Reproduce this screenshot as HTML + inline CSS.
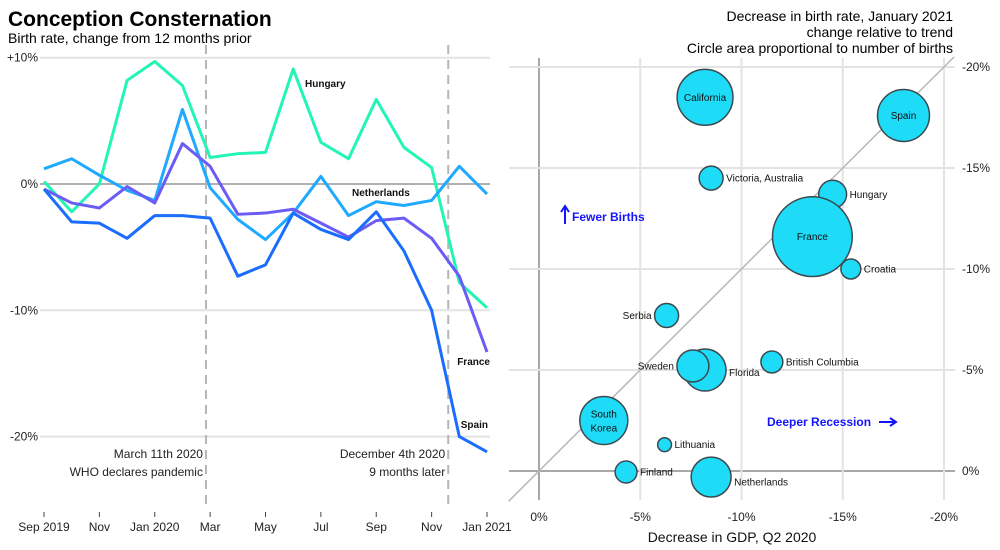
<!DOCTYPE html>
<html><head><meta charset="utf-8"><style>
body{margin:0;background:#fff;}
svg{display:block;font-family:"Liberation Sans",Arial,sans-serif;}
</style></head><body>
<svg id="chart" width="1000" height="550" viewBox="0 0 1000 550">
<text x="8" y="26" font-size="21" font-weight="bold" fill="#000">Conception Consternation</text>
<text x="8" y="43" font-size="14" fill="#000">Birth rate, change from 12 months prior</text>
<g font-size="14" text-anchor="end" fill="#000">
<text x="953" y="21">Decrease in birth rate, January 2021</text>
<text x="953" y="37">change relative to trend</text>
<text x="953" y="53">Circle area proportional to number of births</text>
</g>
<g id="left"></g>
<g id="right"></g>
</svg>
<script>
// ---- Left chart data ----
const months = ["Sep 2019","Oct","Nov","Dec","Jan 2020","Feb","Mar","Apr","May","Jun","Jul","Aug","Sep","Oct","Nov","Dec","Jan 2021"];
const hungary = [0.2,-2.2,0,8.2,9.7,7.8,2.1,2.4,2.5,9.1,3.3,2.0,6.7,2.9,1.3,-7.8,-9.8];
const netherlands = [1.2,2.0,0.7,-0.5,-1.3,5.9,-0.3,-2.8,-4.4,-2.3,0.6,-2.5,-1.4,-1.7,-1.3,1.4,-0.8];
const france = [-0.4,-1.5,-1.9,-0.2,-1.5,3.2,1.4,-2.4,-2.3,-2.0,-3.1,-4.2,-2.9,-2.7,-4.3,-7.3,-13.3];
const spain = [-0.4,-3.0,-3.1,-4.3,-2.5,-2.5,-2.7,-7.3,-6.4,-2.3,-3.6,-4.4,-2.2,-5.3,-10.0,-20.0,-21.2];
const yTicks = [10,0,-10,-20];
const yTickLabels = ["+10%","0%","-10%","-20%"];
const xTickIdx = [0,2,4,6,8,10,12,14,16];
const xTickLabels = ["Sep 2019","Nov","Jan 2020","Mar","May","Jul","Sep","Nov","Jan 2021"];
const eventIdx = [5.85,14.6];

// ---- Right chart data ----
const places = ["California","Spain","Victoria, Australia","Hungary","France","Croatia","Serbia","Florida","Sweden","British Columbia","South Korea","Lithuania","Finland","Netherlands"];
const gdpDrop = [8.2,18.0,8.5,14.5,13.5,15.4,6.3,8.2,7.6,11.5,3.2,6.2,4.3,8.5];
const birthDrop = [18.5,17.6,14.5,13.7,11.6,10.0,7.7,5.0,5.2,5.4,2.5,1.3,-0.05,-0.3];
const births = [26,22.5,4.8,6.5,53,3.3,4.8,14.7,8.5,4.0,19.2,1.6,4.0,13.3];
const labelPos = ["in","in","right","right","in","right","left","right","left","right","in2","right","right","right"];
const rTicks = [0,5,10,15,20];

const NS="http://www.w3.org/2000/svg";
function mk(tag,attrs,parent,text){const e=document.createElementNS(NS,tag);for(const k in attrs)e.setAttribute(k,attrs[k]);if(text!==undefined)e.textContent=text;parent.appendChild(e);return e;}

// Left axes
const L=document.getElementById('left');
const lx=i=>44+i*(487-44)/16;
const ly=v=>184-v*12.63;
yTicks.forEach((t,i)=>{
  const g=mk('line',{x1:40,x2:490,y1:ly(t),y2:ly(t),stroke:t===0?'#b0b0b0':'#e3e3e3','stroke-width':2},L);
  
  
  const tx=mk('text',{x:38,y:ly(t)+4,'font-size':12,'text-anchor':'end',fill:'#222'},L,yTickLabels[i]);
  
  
});
xTickIdx.forEach((idx,i)=>{
  const x=lx(idx);
  const tk=mk('line',{x1:x,x2:x,y1:512,y2:517,stroke:'#444','stroke-width':1},L);
  
  
  const tx=mk('text',{x:x,y:531,'font-size':12,'text-anchor':'middle',fill:'#222'},L,xTickLabels[i]);
  
  
});
const evTexts=[["March 11th 2020","WHO declares pandemic"],["December 4th 2020","9 months later"]];
eventIdx.forEach((idx,i)=>{
  const x=lx(idx);
  const dl=mk('line',{x1:x,x2:x,y1:45,y2:505,stroke:'#b5b5b5','stroke-width':2,'stroke-dasharray':'9,6'},L);
  
  
  const t1=mk('text',{x:x-3,y:458,'font-size':12,'text-anchor':'end',fill:'#222'},L,evTexts[i][0]);
  
  
  const t2=mk('text',{x:x-3,y:476,'font-size':12,'text-anchor':'end',fill:'#222'},L,evTexts[i][1]);
  
  
});
const series=[[hungary,'#22f5b5','hungary'],[netherlands,'#1fa9ff','netherlands'],[france,'#6a5cf5','france'],[spain,'#1a6dff','spain']];
series.forEach(([d,c,n])=>{
  const p=mk('polyline',{points:d.map((v,i)=>lx(i)+','+ly(v)).join(' '),fill:'none',stroke:c,'stroke-width':3,'stroke-linejoin':'round'},L);
  
  
});
const lineLabels=[["Hungary",305,87,"start"],["Netherlands",352,196,"start"],["France",490,365,"end"],["Spain",488,428,"end"]];
lineLabels.forEach(([t,x,y,a])=>{
  const e=mk('text',{x:x,y:y,'font-size':10,'font-weight':'bold','text-anchor':a,fill:'#111'},L,t);
  
  
});

// Right chart
const R=document.getElementById('right');
const rx=v=>539+v*20.25;
const ry=v=>471-v*20.2;
rTicks.forEach(t=>{
  const v=mk('line',{x1:rx(t),x2:rx(t),y1:58,y2:500,stroke:t===0?'#a8a8a8':'#e3e3e3','stroke-width':2},R);
  
  
  const h=mk('line',{x1:509,x2:955,y1:ry(t),y2:ry(t),stroke:t===0?'#a8a8a8':'#e3e3e3','stroke-width':2},R);
  
  
  const xl=mk('text',{x:rx(t),y:521,'font-size':12,'text-anchor':'middle',fill:'#222'},R,(t===0?'0':'-'+t)+'%');
  
  
  const yl=mk('text',{x:962,y:ry(t)+4,'font-size':12,'text-anchor':'start',fill:'#222'},R,(t===0?'0':'-'+t)+'%');
  
  
});
const diag=mk('line',{x1:rx(-1.5),y1:ry(-1.5),x2:rx(20.5),y2:ry(20.5),stroke:'#b8b8b8','stroke-width':1.5},R);


const xt=mk('text',{x:732,y:542,'font-size':14,'text-anchor':'middle',fill:'#111'},R,'Decrease in GDP, Q2 2020');


const fbArrow=mk('path',{d:'M565,224 L565,207 M561,212 L565,206 L569,212',stroke:'#1414ff','stroke-width':2,fill:'none'},R);


const fb=mk('text',{x:572,y:221,'font-size':12,'font-weight':'bold',fill:'#1414ff'},R,'Fewer Births');


const dr=mk('text',{x:767,y:426,'font-size':12,'font-weight':'bold',fill:'#1414ff'},R,'Deeper Recession');


const drArrow=mk('path',{d:'M879,422 L896,422 M890,418 L896,422 L890,426',stroke:'#1414ff','stroke-width':2,fill:'none'},R);


places.forEach((p,i)=>{
  const cx=rx(gdpDrop[i]),cy=ry(birthDrop[i]),r=Math.sqrt(births[i]*30);
  const c=mk('circle',{cx:cx,cy:cy,r:r,fill:'#1edbf8',stroke:'#3a4a50','stroke-width':1.5},R);
  
  
  const pos=labelPos[i];
  let t;
  if(pos==='in'){t=mk('text',{x:cx,y:cy+3.5,'font-size':10,'text-anchor':'middle',fill:'#111'},R,p);}
  else if(pos==='in2'){const w=p.split(' ');t=mk('text',{x:cx,y:cy-3,'font-size':10,'text-anchor':'middle',fill:'#111'},R,w[0]);
    const t2=mk('text',{x:cx,y:cy+11,'font-size':10,'text-anchor':'middle',fill:'#111'},R,w[1]);
    
    }
  else if(pos==='right'){t=mk('text',{x:cx+r+3,y:cy+(i===7?6:3.5)+(i===13?5:0),'font-size':10,'text-anchor':'start',fill:'#111'},R,p);}
  else {t=mk('text',{x:cx-r-3,y:cy+3.5,'font-size':10,'text-anchor':'end',fill:'#111'},R,p);}
  
  
});
</script>
</body></html>
